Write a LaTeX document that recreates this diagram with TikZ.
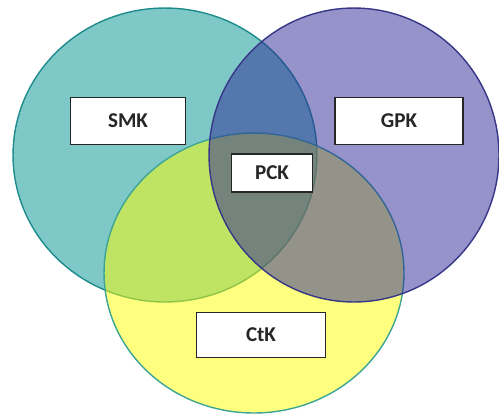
\documentclass[tikz,border=0pt]{standalone}
\usepackage{fontspec}
\setmainfont{Carlito}
\definecolor{smkfill}{RGB}{0,145,145}
\definecolor{smkline}{RGB}{30,140,140}
\definecolor{gpkfill}{RGB}{43,39,150}
\definecolor{gpkline}{RGB}{55,55,135}
\definecolor{ctkfill}{RGB}{255,255,0}
\definecolor{ctkline}{RGB}{60,165,150}
\begin{document}
\begin{tikzpicture}[x=0.02cm, y=-0.02cm,
    ring/.style={line width=0.8pt, fill opacity=0.5},
    tag/.style={draw=black!85, fill=white, line width=1pt, inner sep=0pt,
      text=black!85, font=\bfseries\fontsize{12}{14}\selectfont}]
  \useasboundingbox (0,0) rectangle (499,417);
  % the three circles
  \filldraw[ring, fill=smkfill, draw=smkline] (165,155) ellipse [x radius=3.04cm, y radius=2.94cm];
  \filldraw[ring, fill=ctkfill, draw=ctkline] (254,273) ellipse [x radius=3.0cm, y radius=2.8cm];
  \filldraw[ring, fill=gpkfill, draw=gpkline] (354,155) ellipse [x radius=2.9cm, y radius=2.94cm];
  % labels
  \node[tag, minimum width=2.3cm, minimum height=0.94cm] (smk) at (128,121) {SMK};
  \node[tag, minimum width=2.56cm, minimum height=0.94cm] (gpk) at (399,121) {GPK};
  \node[tag, minimum width=1.62cm, minimum height=0.76cm] (pck) at (272,173) {PCK};
  \node[tag, minimum width=2.58cm, minimum height=0.9cm] (ctk) at (261,335) {CtK};
\end{tikzpicture}
\end{document}
